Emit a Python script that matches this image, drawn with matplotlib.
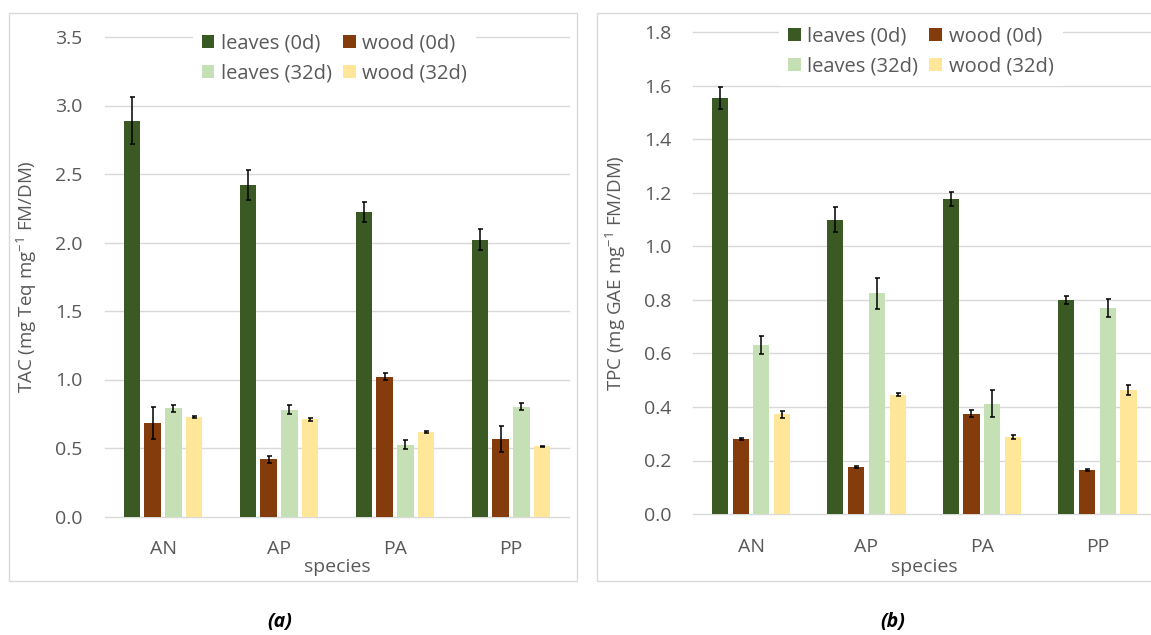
import matplotlib
matplotlib.use("Agg")
import matplotlib.pyplot as plt
from matplotlib.patches import Rectangle, Patch
from matplotlib.ticker import FormatStrFormatter
import numpy as np

plt.rcParams["font.family"] = ["Open Sans", "DejaVu Sans"]
plt.rcParams["mathtext.fontset"] = "custom"
plt.rcParams["mathtext.rm"] = "Open Sans"
plt.rcParams["mathtext.it"] = "Open Sans:italic"
plt.rcParams["mathtext.bf"] = "Open Sans:bold"
plt.rcParams["mathtext.default"] = "regular"

# ---- data -------------------------------------------------------------
species = ["AN", "AP", "PA", "PP"]
series_labels = ["leaves (0d)", "wood (0d)", "leaves (32d)", "wood (32d)"]
series_colors = ["#3B5A23", "#843C0C", "#C5E0B4", "#FFE699"]

# (a) total antioxidant capacity
tac_leaves_0d = [2.89, 2.42, 2.22, 2.02]
tac_leaves_0d_err = [0.17, 0.11, 0.073, 0.078]
tac_wood_0d = [0.685, 0.418, 1.02, 0.565]
tac_wood_0d_err = [0.117, 0.027, 0.027, 0.095]
tac_leaves_32d = [0.79, 0.78, 0.525, 0.80]
tac_leaves_32d_err = [0.025, 0.035, 0.033, 0.026]
tac_wood_32d = [0.725, 0.71, 0.618, 0.512]
tac_wood_32d_err = [0.006, 0.012, 0.005, 0.006]

# (b) total phenolic content
tpc_leaves_0d = [1.556, 1.10, 1.176, 0.80]
tpc_leaves_0d_err = [0.042, 0.047, 0.026, 0.015]
tpc_wood_0d = [0.279, 0.175, 0.374, 0.163]
tpc_wood_0d_err = [0.004, 0.004, 0.013, 0.004]
tpc_leaves_32d = [0.633, 0.826, 0.412, 0.77]
tpc_leaves_32d_err = [0.034, 0.058, 0.051, 0.034]
tpc_wood_32d = [0.372, 0.446, 0.288, 0.463]
tpc_wood_32d_err = [0.012, 0.005, 0.009, 0.019]

tac_ylabel = "TAC (mg Teq mg$^{-1}$ FM/DM)"
tpc_ylabel = "TPC (mg GAE mg$^{-1}$ FM/DM)"

# ---- figure -----------------------------------------------------------
W, H = 1151, 635
fig = plt.figure(figsize=(W / 100, H / 100), dpi=100)
fig.patch.set_facecolor("white")

TEXT = "#595959"
GRID = "#D9D9D9"
FS_TICK = 14
FS_LEG = 14.5
FS_LABEL = 13.5


def px_axes(x0, x1, y_top, y_bottom):
    return fig.add_axes([x0 / W, 1 - y_bottom / H, (x1 - x0) / W, (y_bottom - y_top) / H])


def panel_frame(x0, x1, y_top, y_bottom):
    fig.add_artist(Rectangle((x0 / W, 1 - y_bottom / H), (x1 - x0) / W, (y_bottom - y_top) / H,
                             transform=fig.transFigure, fill=False, ec=GRID, lw=1.0))


def draw_panel(ax, values, errors, ymax, ystep, ylabel, legend_center, ylabel_x, xlabel_y):
    x = np.arange(len(species))
    slot, width = 0.18, 0.14
    handles = []
    for i, (vals, errs, lab, col) in enumerate(zip(values, errors, series_labels, series_colors)):
        pos = x + (i - 1.5) * slot
        ax.bar(pos, vals, width=width, color=col, zorder=2)
        ax.errorbar(pos, vals, yerr=errs, fmt="none", ecolor="black", elinewidth=1.1,
                    capsize=1.8, capthick=1.1, zorder=3, clip_on=False)
        handles.append(Patch(facecolor=col, edgecolor="none", label=lab))

    ax.set_xlim(-0.5, len(species) - 0.5)
    ax.set_ylim(0, ymax)
    ax.set_yticks(np.arange(0, ymax + 1e-9, ystep))
    ax.yaxis.set_major_formatter(FormatStrFormatter("%.1f"))
    ax.set_xticks(x)
    ax.set_xticklabels(species)
    for s in ax.spines.values():
        s.set_visible(False)
    ax.grid(axis="y", color=GRID, lw=1.0, zorder=0)
    for gl in ax.yaxis.get_gridlines():
        gl.set_clip_on(False)
    ax.set_axisbelow(True)
    ax.tick_params(axis="both", length=0, labelsize=FS_TICK, labelcolor=TEXT)
    ax.tick_params(axis="y", pad=16)
    ax.tick_params(axis="x", pad=17)

    ax.set_ylabel(ylabel, fontsize=FS_LABEL, color=TEXT, va="center")
    ax.yaxis.set_label_coords(ylabel_x, 0.5)
    ax.set_xlabel("species", fontsize=FS_TICK, color=TEXT, va="center")
    ax.xaxis.set_label_coords(0.5, xlabel_y)

    order = [0, 2, 1, 3]
    leg = ax.legend([handles[k] for k in order], [series_labels[k] for k in order],
                    ncol=2, loc="center",
                    bbox_to_anchor=(legend_center[0] / W, 1 - legend_center[1] / H),
                    bbox_transform=fig.transFigure, frameon=True, facecolor="white",
                    edgecolor="none", framealpha=1, fancybox=False, fontsize=FS_LEG,
                    handlelength=0.63, handleheight=0.63, handletextpad=0.33,
                    columnspacing=0.55, labelspacing=0.52, borderpad=0.45, labelcolor=TEXT)
    leg.set_zorder(5)


# panel (a)
panel_frame(9.3, 576.7, 13.3, 580.7)
ax_a = px_axes(105, 569, 37, 516.5)
draw_panel(ax_a,
           [tac_leaves_0d, tac_wood_0d, tac_leaves_32d, tac_wood_32d],
           [tac_leaves_0d_err, tac_wood_0d_err, tac_leaves_32d_err, tac_wood_32d_err],
           3.5, 0.5, tac_ylabel, (334.5, 58.7),
           (27 - 105) / 464, -(566.7 - 516.5) / 479.5)

# panel (b)
panel_frame(597.3, 1160, 13.3, 580.7)
ax_b = px_axes(693.3, 1155, 32.5, 514)
draw_panel(ax_b,
           [tpc_leaves_0d, tpc_wood_0d, tpc_leaves_32d, tpc_wood_32d],
           [tpc_leaves_0d_err, tpc_wood_0d_err, tpc_leaves_32d_err, tpc_wood_32d_err],
           1.8, 0.2, tpc_ylabel, (920.8, 51.5),
           (616 - 693.3) / 461.7, -(566.7 - 514) / 481.5)

# captions
fig.text(280 / W, 1 - 622 / H, "(a)", ha="center", va="center", fontsize=14,
         fontweight="bold", fontstyle="italic", color="black")
fig.text(893 / W, 1 - 622 / H, "(b)", ha="center", va="center", fontsize=14,
         fontweight="bold", fontstyle="italic", color="black")

fig.savefig("out.png", dpi=100)
